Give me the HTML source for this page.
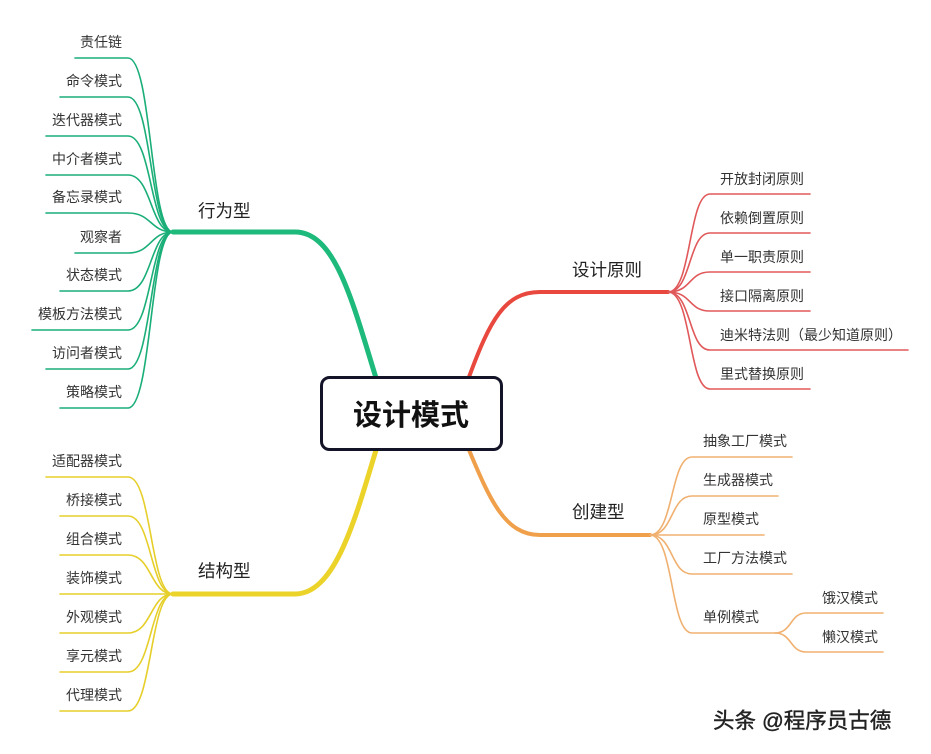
<!DOCTYPE html>
<html><head><meta charset="utf-8"><style>
html,body{margin:0;padding:0;background:#fff;width:931px;height:754px;overflow:hidden}
svg text{font-family:"Liberation Sans","Noto Sans CJK SC",sans-serif}
</style></head><body>
<svg width="931" height="754" viewBox="0 0 931 754" xmlns="http://www.w3.org/2000/svg">
<g fill="none" stroke-linecap="round">
<g stroke="#1aae78" stroke-width="1.6">
<path d="M75,58 H128 C152,58 150,232 173,232"/>
<path d="M60,97 H128 C152,97 150,232 173,232"/>
<path d="M46,136 H128 C152,136 150,232 173,232"/>
<path d="M46,175 H128 C152,175 150,232 173,232"/>
<path d="M46,213 H128 C152,213 150,232 173,232"/>
<path d="M75,253 H128 C152,253 150,232 173,232"/>
<path d="M60,291 H128 C152,291 150,232 173,232"/>
<path d="M32,330 H128 C152,330 150,232 173,232"/>
<path d="M46,369 H128 C152,369 150,232 173,232"/>
<path d="M60,408 H128 C152,408 150,232 173,232"/>
</g>
<path d="M173,232 H295 C335,232 352,300 376,378" stroke="#1dba7c" stroke-width="5"/>
<g stroke="#e6cf2a" stroke-width="1.6">
<path d="M46,477 H128 C152,477 150,594 173,594"/>
<path d="M60,516 H128 C152,516 150,594 173,594"/>
<path d="M60,555 H128 C152,555 150,594 173,594"/>
<path d="M60,594 H173"/>
<path d="M60,633 H128 C152,633 150,594 173,594"/>
<path d="M60,672 H128 C152,672 150,594 173,594"/>
<path d="M60,711 H128 C152,711 150,594 173,594"/>
</g>
<path d="M173,594 H295 C335,594 355,520 376,450" stroke="#ecd32a" stroke-width="5"/>
<path d="M469,377 C490,320 505,292 540,292 H668" stroke="#e8483e" stroke-width="4"/>
<g stroke="#e0585a" stroke-width="1.6">
<path d="M668,292 C692,292 688,194 710,194 H810"/>
<path d="M668,292 C692,292 688,233 710,233 H810"/>
<path d="M668,292 C692,292 688,272 710,272 H810"/>
<path d="M668,292 C692,292 688,311 710,311 H810"/>
<path d="M668,292 C692,292 688,350 710,350 H908"/>
<path d="M668,292 C692,292 688,389 710,389 H810"/>
</g>
<path d="M469,450 C490,500 505,535 540,535 H650" stroke="#f0a04a" stroke-width="4"/>
<g stroke="#f0b070" stroke-width="1.6">
<path d="M650,535 C674,535 670,457 692,457 H792"/>
<path d="M650,535 C674,535 670,496 692,496 H778"/>
<path d="M650,535 H764"/>
<path d="M650,535 C674,535 670,574 692,574 H792"/>
<path d="M650,535 C674,535 670,633 692,633 H775"/>
<path d="M775,633 C792,633 790,613 806,613 H883"/>
<path d="M775,633 C792,633 790,652 806,652 H883"/>
</g>
</g>
<rect x="321.5" y="377.5" width="180" height="72" rx="8" fill="#fff" stroke="#141428" stroke-width="3"/>
<text x="411" y="425" font-size="29" font-weight="bold" fill="#111" text-anchor="middle">设计模式</text>
<g font-size="17.5" fill="#222">
<text x="198" y="217">行为型</text>
<text x="198" y="577">结构型</text>
<text x="572" y="276">设计原则</text>
<text x="572" y="518">创建型</text>
</g>
<g font-size="14" fill="#333" text-anchor="end">
<text x="122" y="47">责任链</text>
<text x="122" y="86">命令模式</text>
<text x="122" y="125">迭代器模式</text>
<text x="122" y="164">中介者模式</text>
<text x="122" y="202">备忘录模式</text>
<text x="122" y="242">观察者</text>
<text x="122" y="280">状态模式</text>
<text x="122" y="319">模板方法模式</text>
<text x="122" y="358">访问者模式</text>
<text x="122" y="397">策略模式</text>
<text x="122" y="466">适配器模式</text>
<text x="122" y="505">桥接模式</text>
<text x="122" y="544">组合模式</text>
<text x="122" y="583">装饰模式</text>
<text x="122" y="622">外观模式</text>
<text x="122" y="661">享元模式</text>
<text x="122" y="700">代理模式</text>
</g>
<g font-size="14" fill="#333">
<text x="720" y="184">开放封闭原则</text>
<text x="720" y="223">依赖倒置原则</text>
<text x="720" y="262">单一职责原则</text>
<text x="720" y="301">接口隔离原则</text>
<text x="720" y="340">迪米特法则（最少知道原则）</text>
<text x="720" y="379">里式替换原则</text>
<text x="703" y="446">抽象工厂模式</text>
<text x="703" y="485">生成器模式</text>
<text x="703" y="524">原型模式</text>
<text x="703" y="563">工厂方法模式</text>
<text x="703" y="622">单例模式</text>
<text x="822" y="603">饿汉模式</text>
<text x="822" y="642">懒汉模式</text>
</g>
<text x="713" y="728" font-size="21.5" fill="#222" stroke="#222" stroke-width="0.4">头条 @程序员古德</text>
</svg>
</body></html>
